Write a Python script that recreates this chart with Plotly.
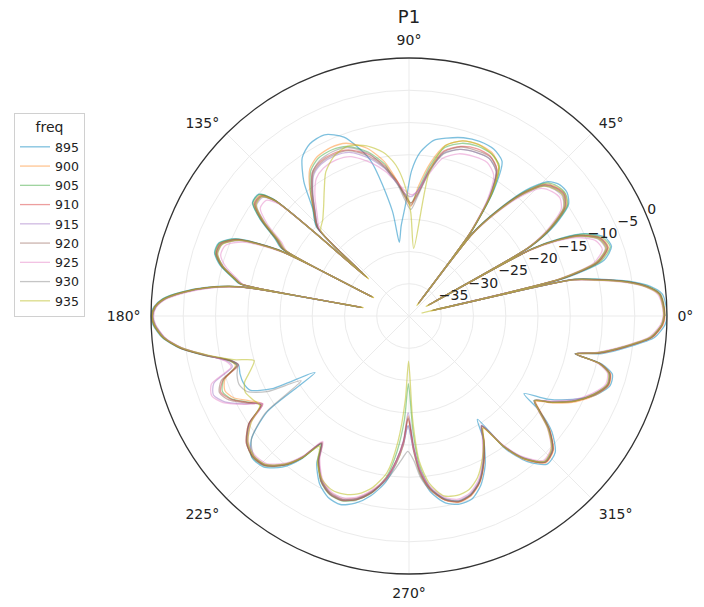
import plotly.graph_objects as go

FREQS = ["895", "900", "905", "910", "915", "920", "925", "930", "935"]
COLORS = ["rgba(40,150,200,0.6)", "rgba(255,127,14,0.45)", "rgba(44,160,44,0.45)",
          "rgba(214,39,40,0.45)", "rgba(148,103,189,0.45)", "rgba(140,86,75,0.45)",
          "rgba(227,119,194,0.45)", "rgba(127,127,127,0.45)", "rgba(188,189,34,0.55)"]

THETA = [0, 3, 5, 7, 9, 11, 12.5, 13.2, 13.8, 16,
         19, 22, 25, 27, 28.6, 29.2, 29.8, 32, 35, 38,
         41, 44, 47, 50, 52.4, 53, 53.6, 56, 59, 63,
         68, 73, 78, 82, 86, 89, 92, 95, 97.5, 99,
         104, 110, 115, 120, 124, 128, 132, 136, 137.5, 138.5,
         139.3, 141, 144, 147, 150, 152, 152.6, 153.2, 156, 159,
         162, 165, 168, 169.2, 169.7, 170.2, 172, 174, 176, 178,
         180, 182, 185, 188, 191, 194, 196, 199, 202, 205,
         208, 211, 214, 218, 222, 226, 230, 233, 235.5, 238,
         242, 246, 250, 254, 258, 262, 265, 267.5, 269.5, 272,
         274, 277, 281, 285, 289, 293, 297, 301, 303.5, 306,
         309, 313, 317, 321, 324, 326, 329, 333, 337, 341,
         344, 346, 347.2, 349, 352, 355, 358, 360]

R_895 = [0.0, -0.2, -0.6, -2.3, -5.5, -10.0, -13.5, -35.0, -14.5, -8.5,
         -6.8, -7.3, -9.8, -13.3, -18.0, -35.5, -18.0, -13.2, -9.8, -8.9,
         -9.0, -10.0, -13.2, -18.5, -23.5, -36.5, -23.5, -16.5, -12.0, -11.0,
         -10.8, -11.1, -11.8, -12.5, -14.5, -17.5, -23.0, -26.0, -28.5, -23.5,
         -15.0, -10.5, -9.0, -9.2, -10.4, -13.5, -17.7, -20.0, -30.5, -19.5,
         -12.0, -10.0, -10.0, -12.5, -16.0, -17.5, -33.0, -17.0, -10.5, -8.4,
         -8.3, -9.7, -12.2, -13.2, -32.0, -13.2, -8.2, -4.5, -1.7, -0.4,
         0.0, -0.3, -1.6, -4.1, -7.8, -11.5, -12.5, -12.3, -12.3, -12.8,
         -16.0, -23.0, -13.5, -9.0, -7.2, -7.5, -9.4, -12.2, -16.0, -13.0,
         -10.5, -9.2, -8.9, -9.8, -11.5, -14.0, -17.0, -20.0, -23.0, -19.0,
         -15.5, -12.5, -10.5, -9.8, -10.0, -11.5, -14.0, -17.5, -20.8, -14.5,
         -11.0, -8.6, -9.0, -11.5, -15.0, -18.5, -15.0, -11.5, -8.6, -7.0,
         -7.2, -9.2, -13.5, -9.5, -5.6, -1.8, -0.3, 0.0]

R_900 = [-0.3, -0.5, -0.9, -2.7, -5.9, -10.4, -13.8, -36.5, -15.2, -9.3,
         -7.3, -7.8, -10.3, -13.8, -18.3, -36.8, -18.3, -13.8, -10.2, -9.3,
         -9.6, -10.5, -13.8, -18.8, -23.8, -37.8, -23.8, -17.0, -13.0, -11.6,
         -11.3, -11.6, -13.0, -16.0, -20.0, -23.0, -21.5, -19.0, -17.0, -15.8,
         -13.2, -11.5, -11.2, -11.5, -12.5, -15.0, -18.0, -20.5, -31.5, -20.2,
         -12.3, -10.3, -10.3, -12.8, -16.3, -17.8, -33.8, -17.3, -10.8, -8.6,
         -8.5, -9.9, -12.4, -13.4, -32.8, -13.4, -8.4, -4.7, -1.9, -0.5,
         -0.2, -0.4, -1.7, -4.2, -7.9, -11.4, -12.0, -9.8, -9.2, -10.0,
         -12.0, -13.5, -10.2, -8.2, -7.5, -7.9, -9.9, -12.6, -16.2, -13.6,
         -11.2, -10.0, -9.8, -10.6, -12.2, -14.6, -17.0, -20.0, -24.5, -19.0,
         -15.5, -12.8, -10.9, -10.1, -10.5, -11.9, -14.4, -17.4, -19.2, -14.8,
         -11.3, -8.9, -9.4, -11.9, -14.8, -16.3, -13.8, -10.8, -8.6, -7.2,
         -7.5, -9.4, -13.2, -9.8, -5.9, -2.1, -0.6, -0.3]

R_905 = [-0.3, -0.5, -0.9, -2.6, -5.8, -10.3, -13.8, -36.2, -15.0, -9.0,
         -7.0, -7.6, -10.0, -13.6, -18.2, -36.6, -18.2, -13.6, -10.0, -9.2,
         -9.4, -10.3, -13.5, -18.6, -23.6, -37.6, -23.6, -16.8, -12.8, -11.8,
         -11.6, -12.0, -13.3, -16.5, -20.5, -22.5, -21.2, -19.2, -17.5, -16.2,
         -13.8, -12.0, -11.6, -11.8, -12.8, -15.2, -17.8, -20.2, -31.2, -19.8,
         -12.2, -10.1, -10.1, -12.6, -16.2, -17.7, -33.6, -17.2, -10.7, -8.5,
         -8.4, -9.8, -12.3, -13.3, -32.6, -13.3, -8.3, -4.6, -1.8, -0.5,
         -0.1, -0.4, -1.7, -4.2, -7.9, -11.3, -12.2, -9.6, -8.8, -9.6,
         -11.6, -13.2, -10.1, -8.1, -7.3, -7.7, -9.7, -12.4, -15.8, -13.4,
         -10.9, -9.7, -9.5, -10.3, -11.9, -14.8, -19.0, -24.0, -29.5, -22.0,
         -16.8, -13.2, -11.1, -10.3, -10.7, -12.1, -14.6, -17.6, -19.6, -15.1,
         -11.6, -9.1, -9.6, -12.1, -15.1, -16.6, -14.1, -11.1, -8.9, -7.4,
         -7.7, -9.6, -13.6, -10.1, -6.1, -2.3, -0.8, -0.4]

R_910 = [-0.4, -0.6, -1.0, -2.8, -6.0, -10.5, -14.0, -36.0, -15.5, -9.5,
         -7.5, -8.0, -10.5, -14.0, -18.5, -36.5, -18.5, -14.0, -10.5, -9.5,
         -9.8, -10.8, -14.0, -19.0, -24.0, -37.5, -24.0, -17.5, -13.5, -12.2,
         -12.0, -12.5, -13.8, -17.0, -21.0, -22.5, -21.0, -19.0, -17.5, -16.5,
         -14.2, -12.6, -12.2, -12.4, -13.2, -15.5, -18.0, -20.3, -31.0, -20.0,
         -12.5, -10.5, -10.5, -13.0, -16.5, -18.0, -33.5, -17.5, -11.0, -8.8,
         -8.6, -10.0, -12.5, -13.5, -32.5, -13.5, -8.5, -4.8, -2.0, -0.6,
         -0.2, -0.5, -1.8, -4.3, -8.0, -11.5, -12.5, -9.5, -8.5, -9.5,
         -11.5, -13.3, -10.0, -8.0, -7.4, -7.8, -9.8, -12.5, -16.0, -13.5,
         -11.0, -9.8, -9.6, -10.4, -12.0, -14.5, -17.5, -20.5, -24.0, -19.5,
         -16.0, -13.0, -11.0, -10.2, -10.6, -12.0, -14.5, -17.5, -19.5, -15.0,
         -11.5, -9.0, -9.5, -12.0, -15.0, -16.5, -14.0, -11.0, -8.8, -7.3,
         -7.6, -9.5, -13.5, -10.0, -6.0, -2.2, -0.7, -0.4]

R_915 = [-0.5, -0.7, -1.1, -2.9, -6.2, -10.7, -14.2, -36.0, -15.8, -9.8,
         -7.8, -8.3, -10.8, -14.3, -18.7, -36.5, -18.7, -14.2, -10.8, -9.8,
         -10.1, -11.0, -14.3, -19.2, -24.2, -37.5, -24.2, -17.8, -13.8, -12.6,
         -12.6, -13.0, -14.2, -17.2, -20.5, -21.5, -21.0, -19.5, -18.0, -17.0,
         -14.8, -13.0, -12.6, -12.8, -13.6, -15.8, -18.3, -20.5, -31.0, -20.2,
         -12.8, -10.8, -10.8, -13.3, -16.8, -18.2, -33.5, -17.7, -11.3, -9.0,
         -8.8, -10.2, -12.6, -13.6, -32.5, -13.6, -8.6, -4.9, -2.1, -0.7,
         -0.3, -0.6, -1.9, -4.4, -8.0, -11.0, -11.5, -8.0, -7.3, -8.5,
         -11.0, -13.5, -10.2, -8.2, -7.6, -8.0, -10.0, -12.7, -16.2, -13.7,
         -11.2, -10.0, -9.8, -10.6, -12.2, -14.5, -17.5, -20.8, -25.0, -20.0,
         -16.2, -13.2, -11.2, -10.4, -10.8, -12.2, -14.7, -17.7, -19.7, -15.2,
         -11.7, -9.2, -9.7, -12.2, -15.2, -16.6, -14.2, -11.2, -9.0, -7.5,
         -7.8, -9.7, -13.6, -10.2, -6.2, -2.4, -0.8, -0.5]

R_920 = [-0.4, -0.6, -1.0, -2.8, -6.0, -10.5, -14.0, -36.3, -15.4, -9.4,
         -7.4, -7.9, -10.4, -13.9, -18.4, -36.4, -18.4, -13.9, -10.4, -9.4,
         -9.7, -10.7, -13.9, -18.9, -23.9, -37.4, -23.9, -17.4, -13.6, -12.3,
         -12.3, -12.6, -14.0, -17.3, -21.2, -22.8, -21.5, -19.3, -17.8, -16.8,
         -14.5, -12.7, -12.4, -12.6, -13.4, -15.7, -18.2, -20.4, -31.2, -20.0,
         -12.5, -10.4, -10.4, -12.9, -16.4, -17.9, -33.4, -17.4, -10.9, -8.7,
         -8.6, -10.0, -12.5, -13.5, -32.4, -13.5, -8.5, -4.8, -2.0, -0.6,
         -0.2, -0.5, -1.8, -4.3, -8.0, -11.4, -12.3, -9.2, -8.3, -9.2,
         -11.3, -13.2, -10.0, -8.0, -7.4, -7.8, -9.8, -12.5, -16.0, -13.5,
         -11.0, -9.8, -9.6, -10.4, -12.0, -14.5, -17.5, -20.5, -24.2, -19.5,
         -16.0, -13.0, -11.0, -10.2, -10.6, -12.0, -14.5, -17.5, -19.5, -15.0,
         -11.5, -9.0, -9.5, -12.0, -15.0, -16.5, -14.0, -11.0, -8.8, -7.3,
         -7.6, -9.5, -13.5, -10.0, -6.0, -2.2, -0.7, -0.4]

R_925 = [-0.6, -0.8, -1.3, -3.1, -6.5, -11.0, -14.5, -36.0, -16.2, -10.2,
         -8.3, -8.8, -11.2, -14.6, -19.0, -36.5, -19.0, -14.6, -11.2, -10.3,
         -10.6, -11.5, -14.7, -19.5, -24.5, -37.5, -24.5, -18.3, -14.5, -13.3,
         -13.3, -13.7, -15.0, -17.8, -20.6, -21.2, -20.5, -19.2, -18.2, -17.4,
         -15.5, -13.7, -13.3, -13.5, -14.3, -16.3, -18.7, -20.8, -30.8, -20.5,
         -13.3, -11.5, -11.5, -13.8, -17.2, -18.5, -33.2, -18.0, -11.8, -9.5,
         -9.3, -10.6, -12.9, -13.8, -32.3, -13.8, -8.9, -5.2, -2.3, -0.8,
         -0.4, -0.7, -2.0, -4.5, -8.1, -10.8, -11.3, -7.6, -7.0, -8.2,
         -10.8, -13.6, -10.4, -8.4, -7.8, -8.2, -10.2, -12.9, -16.4, -13.9,
         -11.4, -10.2, -10.0, -10.8, -12.4, -14.6, -17.3, -20.2, -23.0, -19.2,
         -16.2, -13.4, -11.4, -10.6, -11.0, -12.4, -14.9, -17.9, -19.6, -15.4,
         -11.9, -9.4, -9.9, -12.4, -15.3, -16.5, -14.4, -11.4, -9.2, -7.7,
         -8.0, -9.9, -13.5, -10.4, -6.4, -2.6, -1.0, -0.6]

R_930 = [-0.4, -0.6, -1.0, -2.8, -6.1, -10.6, -14.1, -36.0, -15.6, -9.6,
         -7.6, -8.1, -10.6, -14.1, -18.6, -36.5, -18.6, -14.1, -10.6, -9.6,
         -9.9, -10.9, -14.1, -19.1, -24.1, -37.5, -24.1, -17.6, -13.8, -12.6,
         -12.6, -13.0, -14.3, -17.5, -21.5, -23.5, -22.0, -19.5, -17.8, -16.8,
         -14.0, -12.2, -11.9, -12.2, -13.2, -15.6, -18.2, -20.4, -31.0, -20.1,
         -12.7, -10.6, -10.6, -13.1, -16.6, -18.1, -33.5, -17.6, -11.1, -8.9,
         -8.7, -10.1, -12.6, -13.6, -32.5, -13.6, -8.6, -4.9, -2.1, -0.7,
         -0.3, -0.6, -1.9, -4.4, -8.1, -11.6, -12.3, -11.8, -11.6, -12.3,
         -15.0, -20.5, -13.2, -9.0, -7.6, -7.9, -9.9, -12.6, -16.1, -13.6,
         -11.1, -9.9, -9.7, -10.5, -12.1, -14.2, -16.3, -18.0, -19.0, -17.5,
         -15.0, -12.8, -11.1, -10.3, -10.7, -12.1, -14.6, -17.6, -19.6, -15.1,
         -11.6, -9.1, -9.6, -12.1, -15.1, -16.6, -14.1, -11.1, -8.9, -7.4,
         -7.7, -9.6, -13.6, -10.1, -6.1, -2.3, -0.8, -0.5]

R_935 = [-0.5, -0.7, -1.1, -3.0, -6.2, -10.8, -14.3, -38.0, -16.0, -9.8,
         -7.7, -8.2, -10.7, -14.2, -18.7, -37.0, -18.7, -14.2, -10.7, -9.7,
         -10.0, -11.0, -14.2, -19.2, -24.2, -38.0, -24.2, -17.2, -13.0, -11.8,
         -11.3, -11.6, -13.0, -17.5, -29.5, -24.0, -19.5, -16.5, -15.0, -14.3,
         -12.8, -12.0, -12.6, -14.2, -16.5, -18.5, -20.0, -21.0, -31.5, -20.5,
         -12.6, -10.6, -10.7, -13.2, -16.8, -18.3, -33.8, -17.8, -11.2, -9.0,
         -8.8, -10.1, -12.5, -13.5, -32.8, -13.5, -8.5, -4.8, -2.0, -0.6,
         -0.2, -0.5, -1.8, -4.4, -8.2, -12.0, -15.0, -14.0, -12.5, -12.0,
         -12.5, -13.0, -10.5, -8.3, -7.6, -8.0, -10.0, -12.5, -15.5, -13.2,
         -11.3, -10.5, -10.6, -11.3, -12.8, -15.5, -20.5, -27.0, -33.0, -24.0,
         -17.5, -13.8, -11.6, -11.2, -11.5, -12.8, -15.0, -17.5, -19.2, -15.0,
         -11.5, -9.2, -9.8, -12.3, -15.2, -16.5, -14.0, -11.0, -8.9, -7.5,
         -7.8, -9.6, -13.5, -10.2, -6.2, -2.4, -0.8, -0.5]

SERIES = [R_895, R_900, R_905, R_910, R_915, R_920, R_925, R_930, R_935]

R_TICKS = [-35, -30, -25, -20, -15, -10, -5, 0]
R_TICK_TEXT = ["\u221235", "\u221230", "\u221225", "\u221220", "\u221215", "\u221210", "\u22125", "0"]
R_LABEL_ANGLE = 22.5
A_TICKS = [0, 45, 90, 135, 180, 225, 270, 315]
A_TICK_TEXT = ["0°", "45°", "90°", "135°", "180°", "225°", "270°", "315°"]

FONT = "DejaVu Sans"

fig = go.Figure()
for name, r, col in zip(FREQS, SERIES, COLORS):
    fig.add_trace(go.Scatterpolar(
        r=r, theta=THETA, mode="lines", name=name,
        line=dict(color=col, width=1.3, shape="spline", smoothing=0.7),
    ))

# radial tick labels, matplotlib-style (horizontal, at 22.5 degrees)
fig.add_trace(go.Scatterpolar(
    r=R_TICKS, theta=[R_LABEL_ANGLE] * len(R_TICKS), mode="text",
    text=R_TICK_TEXT, textposition="top right", showlegend=False,
    hoverinfo="skip", cliponaxis=False,
    textfont=dict(size=14, family=FONT, color="#222"),
))

W, H = 704, 607
cx, cy, rad = 409, 316, 258
fig.update_layout(
    width=W, height=H,
    margin=dict(l=0, r=0, t=0, b=0),
    paper_bgcolor="white", plot_bgcolor="white",
    font=dict(family=FONT, color="#222", size=14),
    title=dict(text="P1", x=cx / W, xanchor="center", y=1 - 10 / H, yanchor="top",
               font=dict(size=18, family=FONT, color="#222")),
    polar=dict(
        domain=dict(x=[(cx - rad) / W, (cx + rad) / W],
                    y=[(H - cy - rad) / H, (H - cy + rad) / H]),
        bgcolor="white",
        radialaxis=dict(range=[-40, 0], tickvals=R_TICKS, showticklabels=False,
                        angle=R_LABEL_ANGLE, showline=False, ticks="",
                        gridcolor="#ebebeb", gridwidth=1),
        angularaxis=dict(tickvals=A_TICKS, ticktext=A_TICK_TEXT, direction="counterclockwise",
                         rotation=0, gridcolor="#ebebeb", gridwidth=1,
                         linecolor="#333", linewidth=1.3, showline=True,
                         ticks="outside", ticklen=7, tickcolor="rgba(0,0,0,0)",
                         tickfont=dict(size=14, family=FONT, color="#222")),
    ),
    legend=dict(x=14 / W, y=1 - 113 / H, xanchor="left", yanchor="top",
                bordercolor="#d0d0d0", borderwidth=1, bgcolor="white",
                font=dict(size=12.5, family=FONT, color="#222"),
                title=dict(text="freq", side="top center", font=dict(size=14, family=FONT, color="#222")),
                itemwidth=30),
    showlegend=True,
)

fig.write_html("out.html", config={"displayModeBar": False},
               post_script="document.body.style.margin='0px';")
